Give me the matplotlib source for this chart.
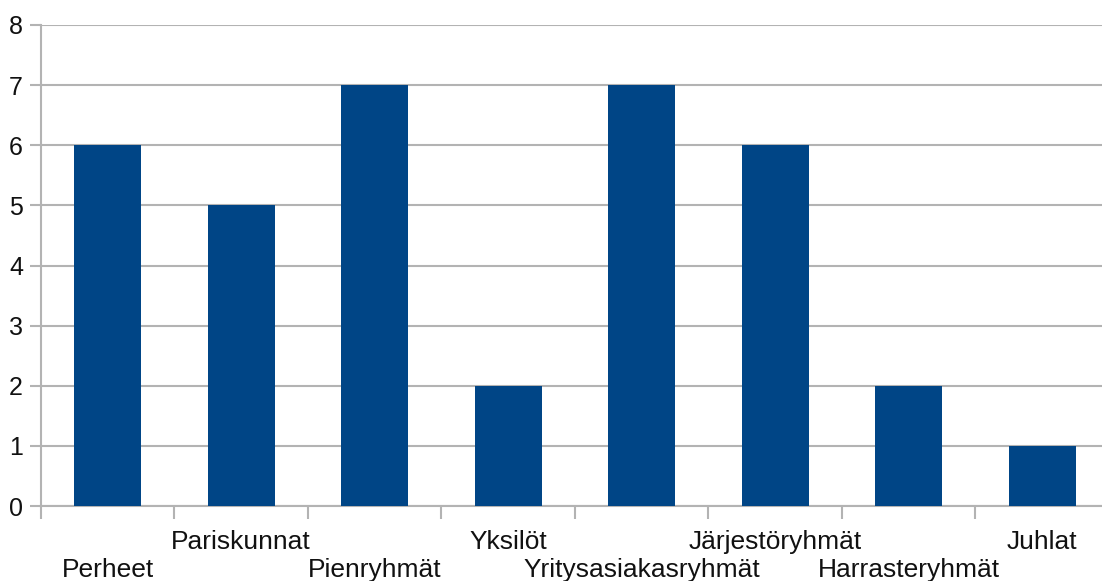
import matplotlib.pyplot as plt
import numpy as np

plt.rcParams["font.family"] = ["Liberation Sans", "DejaVu Sans"]

categories = [
    "Perheet",
    "Pariskunnat",
    "Pienryhmät",
    "Yksilöt",
    "Yritysasiakasryhmät",
    "Järjestöryhmät",
    "Harrasteryhmät",
    "Juhlat",
]
values = [6, 5, 7, 2, 7, 6, 2, 1]

bar_color = "#004586"
grid_color = "#b3b3b3"

fig = plt.figure(figsize=(11.02, 5.81), dpi=100)
ax = fig.add_axes([41 / 1102, 75 / 581, 1068 / 1102, 481 / 581])

x = np.arange(len(categories))
ax.bar(x, values, width=0.5, color=bar_color, zorder=3)

ax.set_xlim(-0.5, len(categories) - 0.5)
ax.set_ylim(0, 8)
ax.set_yticks(range(0, 9))
ax.yaxis.grid(True, color=grid_color, linewidth=1.5, zorder=0)

# category boundary ticks
ax.set_xticks(np.arange(-0.5, len(categories)), minor=True)
ax.set_xticks([])
ax.tick_params(axis="x", which="minor", length=9, width=1.5, color=grid_color)
ax.tick_params(axis="y", length=8, width=1.5, color=grid_color,
               labelsize=18, pad=5, labelcolor="#111111")

for side in ["top", "right"]:
    ax.spines[side].set_visible(False)
ax.spines["left"].set_color(grid_color)
ax.spines["left"].set_linewidth(1.5)
ax.spines["bottom"].set_color(grid_color)
ax.spines["bottom"].set_linewidth(1.5)

# staggered category labels
for i, name in enumerate(categories):
    offset = -26 if i % 2 else -46
    ax.annotate(name, xy=(x[i], 0), xycoords=("data", "axes fraction"),
                xytext=(0, offset), textcoords="offset points",
                ha="center", va="center", fontsize=19, color="#111111")

fig.savefig("out.png", dpi=100)
